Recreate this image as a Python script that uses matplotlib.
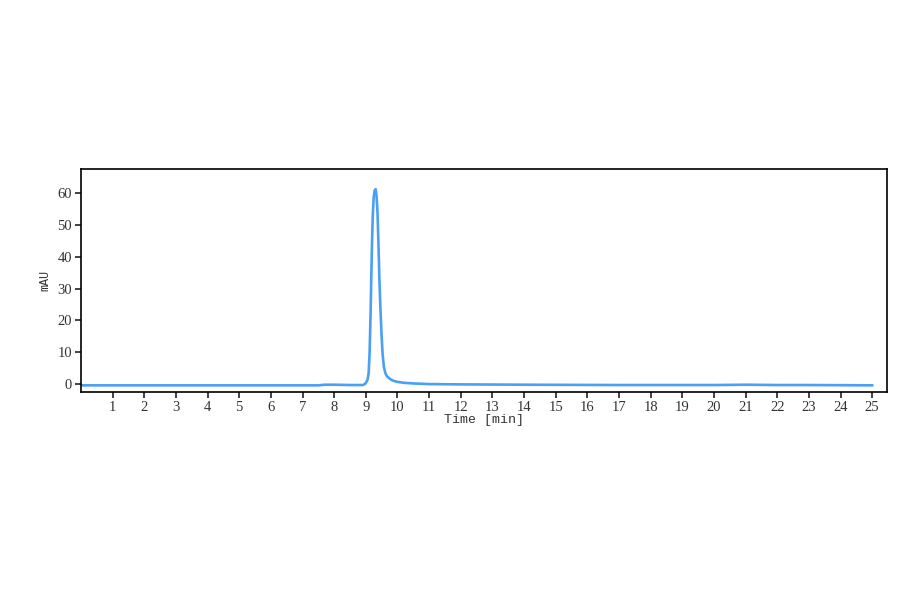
import matplotlib
matplotlib.use("Agg")
import matplotlib.pyplot as plt

# ── Data ─────────────────────────────────────────────────────────────────────
time_min = [0.0, 2.0, 4.0, 6.0, 7.5, 7.7, 8.0, 8.5, 8.9, 8.97, 9.03, 9.06,
            9.09, 9.12, 9.15, 9.18, 9.2, 9.22, 9.25, 9.28, 9.31, 9.34, 9.37,
            9.4, 9.43, 9.46, 9.5, 9.53, 9.57, 9.62, 9.67, 9.78, 9.88,
            10.0, 10.2, 10.5, 11.0, 12.0, 14.0, 17.0, 20.0, 21.0, 22.0, 23.0,
            25.0]
mau = [-0.4, -0.4, -0.4, -0.4, -0.4, -0.2, -0.2, -0.3, -0.3, 0.0, 0.8, 1.6,
       3.5, 10.0, 22.0, 37.0, 46.0, 53.0, 58.8, 60.8, 61.2, 59.0, 53.7,
       43.5, 32.7, 24.0, 14.9, 9.5, 5.4, 3.4, 2.4, 1.5, 1.0,
       0.7, 0.4, 0.2, 0.0, -0.1, -0.2, -0.3, -0.3, -0.2, -0.3, -0.3,
       -0.4]
x_ticks = list(range(1, 26))
y_ticks = [0, 10, 20, 30, 40, 50, 60]

plt.rcParams["font.family"] = ["Liberation Serif", "DejaVu Serif"]

fig = plt.figure(figsize=(9, 5.94), dpi=100)
ax = fig.add_axes([0.09, 0.34, 0.8956, 0.3754])

ax.plot(time_min, mau, color="#4aa0f5", linewidth=1.9,
        solid_joinstyle="round")

ax.set_xlim(0, 25.47)
ax.set_ylim(-2.5, 67.5)
ax.set_xticks(x_ticks)
ax.set_yticks(y_ticks)
ax.tick_params(direction="out", length=4, width=1.2, labelsize=10.5,
               colors="#222222", labelcolor="#333333", pad=2.5)
for side in ax.spines.values():
    side.set_linewidth(1.2)

ax.set_xlabel("Time [min]", fontsize=9.5, color="#333333", labelpad=0,
              family=["Liberation Mono", "DejaVu Sans Mono"])
ax.set_ylabel("mAU", fontsize=8.5, color="#333333", labelpad=4,
              family=["Liberation Mono", "DejaVu Sans Mono"])

fig.savefig("out.png", dpi=100, facecolor="white")
